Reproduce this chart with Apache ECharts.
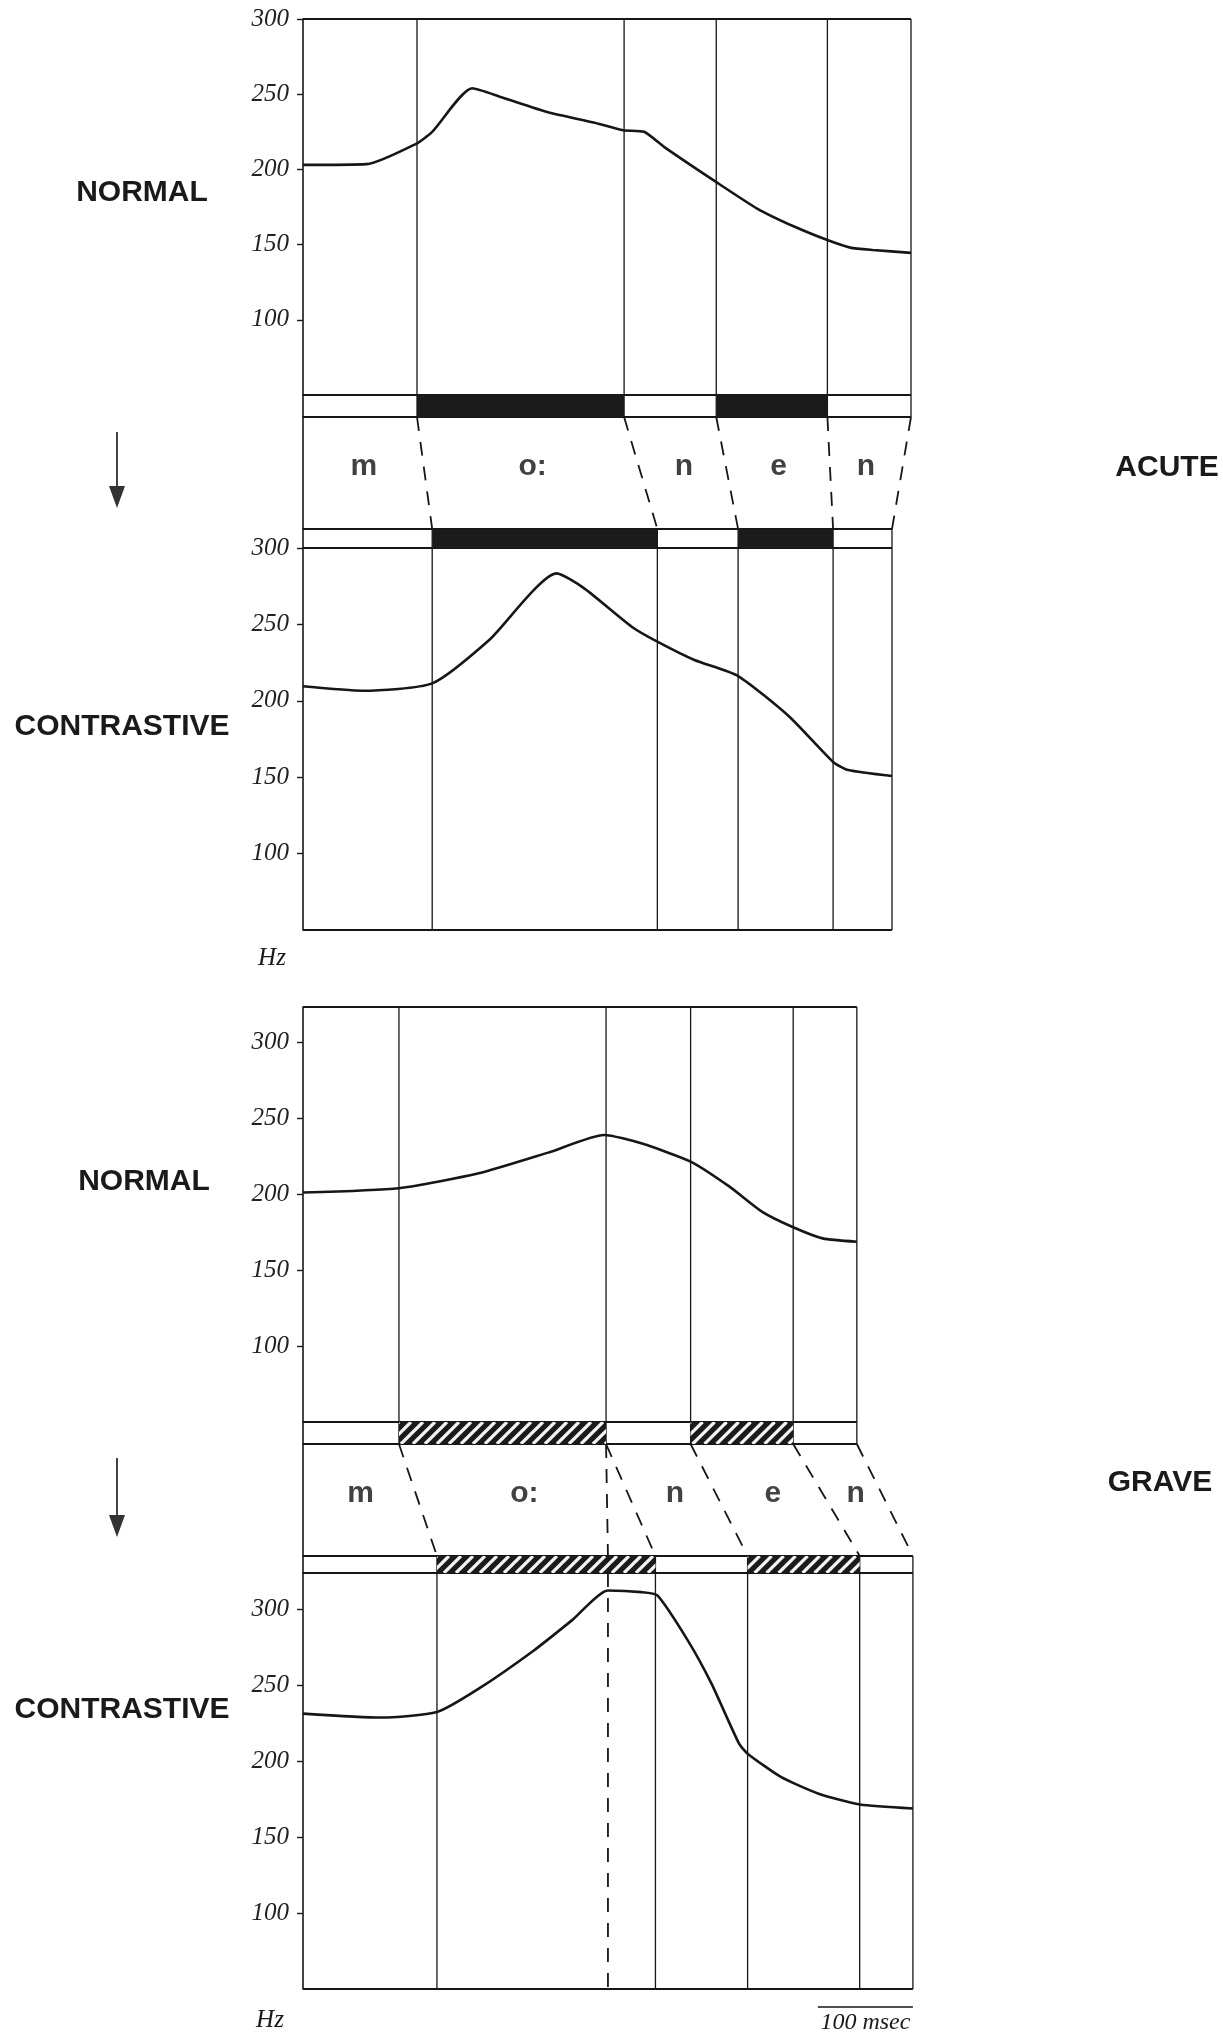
<!DOCTYPE html>
<html>
<head>
<meta charset="utf-8">
<script src="https://cdn.jsdelivr.net/npm/echarts@6/dist/echarts.min.js"></script>
<style>html,body{margin:0;padding:0;background:#fff}#c{width:1223px;height:2033px}</style>
</head>
<body>
<div id="c"></div>
<script>
// ---------------- data ----------------
const phonemes = ['m', 'o:', 'n', 'e', 'n'];
const voiced = [0, 1, 0, 1, 0];            // segments drawn as filled bars
const hzTicks = [100, 150, 200, 250, 300]; // tick labels (Hz)

// segment end times (ms)
const acuteNormalBounds = [120, 338, 435, 552, 640];
const acuteContrBounds  = [136, 373, 458, 558, 620];
const graveNormalBounds = [101, 319, 408, 516, 583];
const graveContrBounds  = [141, 371, 468, 586, 642];
const graveAlignMs = 321;   // dashed alignment line (end of o: carried down)
const scaleBarMs = 100;

// F0 contours (ms, Hz)
const acuteNormalT  = [0, 67, 119, 136, 178, 209, 258, 307, 337, 359, 380, 434, 478, 517, 552, 576, 600, 640];
const acuteNormalHz = [203, 203.5, 217, 225, 254, 248, 238, 231, 226, 225, 215, 192, 174, 162, 153, 148, 146.4, 144.5];

const acuteContrT  = [0, 63, 136, 196, 267, 296, 346, 373, 412, 458, 512, 558, 574, 620];
const acuteContrHz = [209.5, 206.6, 211.4, 239.8, 283.4, 273.6, 248.5, 238.7, 226.7, 216.2, 189.6, 160, 154.7, 150.8];

const graveNormalT  = [0, 101, 185, 258, 317, 356, 408, 449, 483, 516, 547, 583];
const graveNormalHz = [201, 203.8, 213.6, 227.2, 238.8, 233.3, 221.3, 204.8, 188.4, 178.1, 170.8, 168.6];

const graveContrT  = [0, 82, 141, 185, 243, 283, 321, 356, 373, 405, 430, 459, 468, 503, 542, 586, 642];
const graveContrHz = [231.4, 228.8, 232.4, 247.8, 273, 292.8, 312.5, 311.4, 309.2, 279.6, 251.1, 211.6, 205, 189.7, 178.8, 171.5, 168.9];

// ---------------- layout ----------------
const INK = '#161616';
const X_MAX = 645;
const LEFT = 303, WIDTH = 612.75;
const gridDefs = [
  {top: 19,   height: 376, kind: 'pitch', yMax: 300}, // 0 acute normal
  {top: 395,  height: 22,  kind: 'band'},             // 1
  {top: 417,  height: 112, kind: 'link'},             // 2
  {top: 529,  height: 19,  kind: 'band'},             // 3
  {top: 548,  height: 382, kind: 'pitch', yMax: 300}, // 4 acute contrastive
  {top: 1007, height: 415, kind: 'pitch', yMax: 323}, // 5 grave normal
  {top: 1422, height: 22,  kind: 'band'},             // 6
  {top: 1444, height: 112, kind: 'link'},             // 7
  {top: 1556, height: 17,  kind: 'band'},             // 8
  {top: 1573, height: 416, kind: 'pitch', yMax: 324}  // 9 grave contrastive
];
const Y_MIN = 50;

const grid = gridDefs.map(g => ({left: LEFT, width: WIDTH, top: g.top, height: g.height}));
const xAxis = gridDefs.map((g, i) => ({gridIndex: i, type: 'value', min: 0, max: X_MAX, show: false}));
const yAxis = gridDefs.map((g, i) => {
  const base = {
    gridIndex: i, type: 'value',
    axisLine: {show: true, onZero: false, lineStyle: {color: INK, width: 1.6}},
    splitLine: {show: false}
  };
  if (g.kind === 'pitch') {
    return Object.assign(base, {
      min: Y_MIN, max: g.yMax,
      axisTick: {show: true, customValues: hzTicks, length: 6, lineStyle: {color: INK, width: 1.4}},
      axisLabel: {show: true, customValues: hzTicks, margin: 14, color: '#222',
        fontFamily: 'Liberation Serif', fontStyle: 'italic', fontSize: 25}
    });
  }
  return Object.assign(base, {min: 0, max: 1, axisTick: {show: false}, axisLabel: {show: false}});
});

// ---------------- helpers ----------------
// segment kinds: 0 thin solid, 1 rule, 2 dashed
function frameSeries(gi, segs) {
  return {
    type: 'custom', xAxisIndex: gi, yAxisIndex: gi, silent: true, z: 2,
    encode: {x: [0, 2], y: [1, 3]},
    data: segs,
    renderItem: function (params, api) {
      const p1 = api.coord([api.value(0), api.value(1)]);
      const p2 = api.coord([api.value(2), api.value(3)]);
      const k = api.value(4);
      return {
        type: 'line',
        shape: {x1: p1[0], y1: p1[1], x2: p2[0], y2: p2[1]},
        style: {stroke: INK, lineWidth: k === 1 ? 2 : (k === 2 ? 1.8 : 1.3),
                lineDash: k === 2 ? [14, 11] : null, fill: null}
      };
    }
  };
}
function bandSeries(gi, bounds, hatched) {
  const data = bounds.map((b, i) => [i === 0 ? 0 : bounds[i - 1], b, voiced[i]]);
  return {
    type: 'custom', xAxisIndex: gi, yAxisIndex: gi, silent: true, z: 3,
    encode: {x: [0, 1]},
    data: data,
    renderItem: function (params, api) {
      if (!api.value(2)) return null;
      const a = api.coord([api.value(0), 1]);
      const b = api.coord([api.value(1), 0]);
      const r = {x: a[0], y: a[1], width: b[0] - a[0], height: b[1] - a[1]};
      const children = [{type: 'rect', shape: r, style: {fill: '#1b1b1b'}}];
      if (hatched) {
        const h = r.height;
        for (let x = r.x - h; x < r.x + r.width; x += 12) {
          children.push({type: 'line',
            shape: {x1: x, y1: r.y + h, x2: x + h, y2: r.y},
            style: {stroke: '#f4f4f4', lineWidth: 3.2}});
        }
      }
      return {type: 'group', children: children,
              clipPath: {type: 'rect', shape: r}};
    }
  };
}
function curveSeries(gi, t, hz) {
  return {
    type: 'line', xAxisIndex: gi, yAxisIndex: gi, z: 5, silent: true,
    data: t.map((v, i) => [v, hz[i]]),
    smooth: 0.2, symbol: 'none',
    lineStyle: {color: INK, width: 2.6}
  };
}
function labelSeries(gi, upper, lower) {
  const mid = (b, i) => ((i === 0 ? 0 : b[i - 1]) + b[i]) / 2;
  return {
    type: 'scatter', xAxisIndex: gi, yAxisIndex: gi, z: 6, silent: true,
    symbolSize: 1, itemStyle: {color: 'rgba(0,0,0,0)'},
    data: phonemes.map((p, i) => ({name: p, value: [(mid(upper, i) + mid(lower, i)) / 2, 0.56]})),
    label: {show: true, position: 'inside', formatter: '{b}', color: '#111',
            fontFamily: 'Liberation Sans', fontWeight: 'bold', fontSize: 30}
  };
}
const last = a => a[a.length - 1];
function pitchFrame(bounds, yMax, topRule, bottomRule) {
  const s = bounds.map(b => [b, yMax, b, Y_MIN, 0]);
  if (topRule) s.push([0, yMax, last(bounds), yMax, 1]);
  if (bottomRule) s.push([0, Y_MIN, last(bounds), Y_MIN, 1]);
  return s;
}
function bandFrame(bounds) {
  const s = bounds.map(b => [b, 1, b, 0, 0]);
  s.push([0, 1, last(bounds), 1, 1]);
  s.push([0, 0, last(bounds), 0, 1]);
  return s;
}
function linkFrame(upper, lower) {
  return upper.map((u, i) => [u, 1, lower[i], 0, 2]);
}

// ---------------- series ----------------
const series = [
  frameSeries(0, pitchFrame(acuteNormalBounds, 300, true, false)),
  frameSeries(1, bandFrame(acuteNormalBounds)),
  bandSeries(1, acuteNormalBounds, false),
  frameSeries(2, linkFrame(acuteNormalBounds, acuteContrBounds)),
  labelSeries(2, acuteNormalBounds, acuteContrBounds),
  frameSeries(3, bandFrame(acuteContrBounds)),
  bandSeries(3, acuteContrBounds, false),
  frameSeries(4, pitchFrame(acuteContrBounds, 300, false, true)),
  curveSeries(0, acuteNormalT, acuteNormalHz),
  curveSeries(4, acuteContrT, acuteContrHz),

  frameSeries(5, pitchFrame(graveNormalBounds, 323, true, false)),
  frameSeries(6, bandFrame(graveNormalBounds)),
  bandSeries(6, graveNormalBounds, true),
  frameSeries(7, linkFrame(graveNormalBounds, graveContrBounds)
                   .concat([[graveNormalBounds[1], 1, graveAlignMs, 0, 2]])),
  labelSeries(7, graveNormalBounds, graveContrBounds),
  frameSeries(8, bandFrame(graveContrBounds)),
  bandSeries(8, graveContrBounds, true),
  frameSeries(8, [[graveAlignMs, 1, graveAlignMs, 0, 2]]),
  frameSeries(9, pitchFrame(graveContrBounds, 324, false, true)
                   .concat([[graveAlignMs, 324, graveAlignMs, Y_MIN, 2]])),
  curveSeries(5, graveNormalT, graveNormalHz),
  curveSeries(9, graveContrT, graveContrHz)
];

// ---------------- side texts ----------------
const sideFont = 'bold 30px "Liberation Sans", Arial, sans-serif';
const handFont = 'italic 25px "Liberation Serif", serif';
function txt(text, x, y, font, align) {
  return {type: 'text', silent: true, z: 10,
    style: {text: text, x: x, y: y, font: font, fill: '#1a1a1a',
            textAlign: align || 'center', textVerticalAlign: 'middle'}};
}
function arrow(x, y1, y2) {
  return {type: 'group', silent: true, children: [
    {type: 'line', shape: {x1: x, y1: y1, x2: x, y2: y2 - 16}, style: {stroke: INK, lineWidth: 1.6}},
    {type: 'polygon', shape: {points: [[x - 8, y2 - 22], [x + 8, y2 - 22], [x, y2]]}, style: {fill: '#333'}}
  ]};
}
const graphics = [
  txt('NORMAL', 142, 193, sideFont),
  txt('CONTRASTIVE', 122, 727, sideFont),
  txt('NORMAL', 144, 1182, sideFont),
  txt('CONTRASTIVE', 122, 1710, sideFont),
  txt('ACUTE', 1167, 468, sideFont),
  txt('GRAVE', 1160, 1483, sideFont),
  txt('Hz', 272, 958, handFont),
  txt('Hz', 270, 2020, handFont),
  arrow(117, 432, 508),
  arrow(117, 1458, 1537)
];

const chart = echarts.init(document.getElementById('c'), null, {renderer: 'canvas', width: 1223, height: 2033});
chart.setOption({
  animation: false,
  backgroundColor: '#ffffff',
  grid: grid, xAxis: xAxis, yAxis: yAxis, series: series,
  graphic: graphics
});

// 100 msec scale bar, sized by the x scale of the last panel
const barEnd = last(graveContrBounds);
const pA = chart.convertToPixel({gridIndex: 9}, [barEnd - scaleBarMs, Y_MIN]);
const pB = chart.convertToPixel({gridIndex: 9}, [barEnd, Y_MIN]);
graphics.push({type: 'line', silent: true, shape: {x1: pA[0], y1: pA[1] + 18, x2: pB[0], y2: pB[1] + 18},
               style: {stroke: INK, lineWidth: 1.6}});
graphics.push(txt(scaleBarMs + ' msec', (pA[0] + pB[0]) / 2, pA[1] + 34, 'italic 24px "Liberation Serif", serif'));
chart.setOption({graphic: graphics});
</script>
</body>
</html>
